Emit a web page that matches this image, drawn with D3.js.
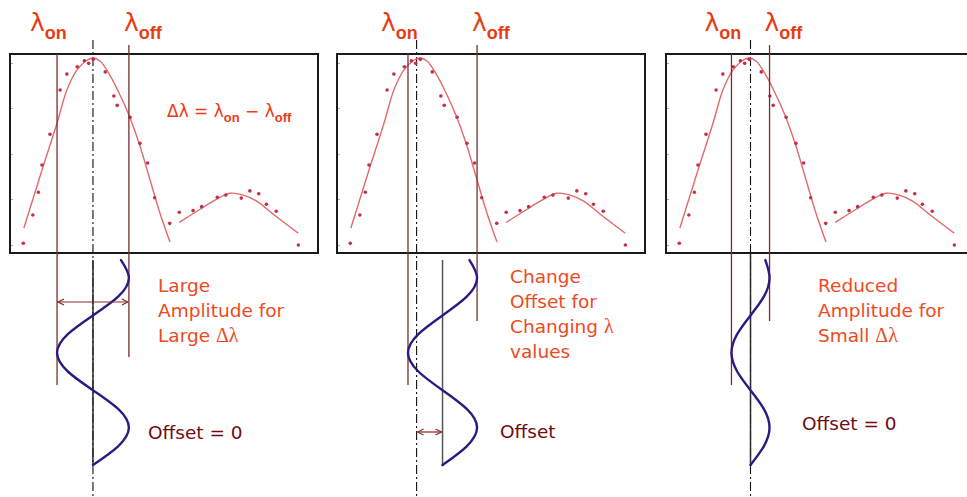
<!DOCTYPE html>
<html>
<head>
<meta charset="utf-8">
<script src="https://cdn.jsdelivr.net/npm/d3@7"></script>
<style>
  body { margin: 0; background: #fff; }
  text { font-family: "DejaVu Sans", Verdana, sans-serif; }
</style>
</head>
<body>
<script>
// measured spectrum, identical in all three panels (x: wavelength 0-100, y: signal 0-100)
const specX = [4.0, 7.1, 8.9, 10.1, 12.7, 16.0, 18.2, 21.6, 23.9, 25.3, 26.8, 30.7, 33.5, 34.6, 38.8,
               42.0, 44.5, 46.8, 51.7, 54.8, 59.3, 62.1, 67.2, 70.0, 75.0, 77.8, 80.7, 83.2, 86.4, 93.6];
const specY = [4.9, 19.1, 30.5, 44.2, 59.7, 81.9, 89.9, 93.6, 96.6, 95.3, 97.3, 91.0, 78.9, 74.2, 68.2,
               55.1, 45.2, 27.8, 14.9, 20.5, 21.3, 23.3, 28.0, 29.1, 27.6, 31.2, 29.8, 24.5, 21.0, 4.0];

// fitted curves
const fitPeakX = [4.2, 10.1, 15.0, 18.2, 21.5, 24.4, 26.7, 29.0, 32.2, 35.5, 38.4, 42.0, 45.3, 48.5, 51.8];
const fitPeakY = [12.6, 41.7, 65.3, 81.9, 92.0, 96.5, 98.0, 96.5, 89.4, 79.4, 69.3, 53.8, 36.7, 20.1, 5.5];
const fitSideX = [54.8, 61.6, 67.0, 71.3, 75.6, 80.0, 86.5, 93.6];
const fitSideY = [15.4, 22.0, 27.1, 30.0, 29.1, 26.1, 18.2, 9.9];

const yTicks = [4.0, 27.1, 49.7, 72.9, 95.5];

// laser wavelengths per panel
const lambdaOn = [15.0, 22.8, 21.0];
const lambdaOff = [38.4, 45.3, 33.4];
const lineCentre = [26.7, 25.6, 27.2];

// modulation waveform: phase (periods) and normalised value (-1 = lambda on, 1 = lambda off)
const wavePhase = [-0.12, 0, 0.125, 0.25, 0.375, 0.5, 0.625, 0.75, 0.875, 1, 1.125, 1.25];
const waveValue = [0.78, 1, 0.7, 0, -0.7, -1, -0.7, 0, 0.7, 1, 0.7, 0];

const captions = [
  ["Large", "Amplitude for", "Large Δλ"],
  ["Change", "Offset for", "Changing λ", "values"],
  ["Reduced", "Amplitude for", "Small Δλ"]
];
const offsetLabels = ["Offset = 0", "Offset", "Offset = 0"];

// layout
const W = 967, H = 497;
const boxTop = 54, boxBottom = 253, boxW = 307;
const layout = [
  { left: 11, offBottom: 357, capX: 158, capY: 292, offX: 148, offY: 439, arrow: "amp", solidTop: 260 },
  { left: 338, offBottom: 321, capX: 510, capY: 283, offX: 500, offY: 438, arrow: "offset", solidTop: 260 },
  { left: 667, offBottom: 321, capX: 818, capY: 292, offX: 802, offY: 430, arrow: null, solidTop: 254 }
];

const red = "#ee4a1e", maroon = "#6e0c14", lineCol = "#7a2e2e";

const svg = d3.select("body").append("svg").attr("width", W).attr("height", H);

const defs = svg.append("defs");
defs.append("marker")
    .attr("id", "arr")
    .attr("viewBox", "0 0 8 8")
    .attr("refX", 7).attr("refY", 4)
    .attr("markerWidth", 8).attr("markerHeight", 8)
    .attr("markerUnits", "userSpaceOnUse")
    .attr("orient", "auto-start-reverse")
  .append("path")
    .attr("d", "M1,1 L7,4 L1,7")
    .attr("fill", "none")
    .attr("stroke", "#8b2a2a")
    .attr("stroke-width", 1.2);

const y = d3.scaleLinear().domain([0, 100]).range([boxBottom, boxTop]);
const yWave = d3.scaleLinear().domain([0, 1.25]).range([278, 465]);

const spec = specX.map((d, i) => ({ x: d, y: specY[i] }));
const fitPeak = fitPeakX.map((d, i) => ({ x: d, y: fitPeakY[i] }));
const fitSide = fitSideX.map((d, i) => ({ x: d, y: fitSideY[i] }));
const wave = wavePhase.map((d, i) => ({ t: d, v: waveValue[i] }));

function greekText(sel, str) {
  // split so greek letters use a thinner serif face
  str.split(/([Δλ]+)/).filter(s => s.length).forEach(s => {
    const t = sel.append("tspan").text(s);
    if (/[Δλ]/.test(s)) t.attr("font-family", "Liberation Serif, serif").attr("font-size", 20);
  });
}

layout.forEach((p, i) => {
  const x = d3.scaleLinear().domain([0, 100]).range([p.left, p.left + boxW]);
  const g = svg.append("g");

  const xOn = x(lambdaOn[i]), xOff = x(lambdaOff[i]);
  const xMid = x((lambdaOn[i] + lambdaOff[i]) / 2);
  const xRef = x(lineCentre[i]);

  // dash-dot reference line through the peak
  g.append("line")
      .attr("x1", xRef).attr("x2", xRef).attr("y1", 40).attr("y2", H)
      .attr("stroke", "#111").attr("stroke-width", 1.1)
      .attr("stroke-dasharray", "9,3,2,3");

  // box
  g.append("rect")
      .attr("x", p.left - 1).attr("y", boxTop)
      .attr("width", boxW + 1).attr("height", boxBottom - boxTop)
      .attr("fill", "none").attr("stroke", "#1a1a1a").attr("stroke-width", 2);

  g.append("g")
      .attr("transform", "translate(" + p.left + ",0)")
      .call(d3.axisLeft(y).tickValues(yTicks).tickSize(-2).tickFormat(""))
      .call(a => a.select(".domain").remove())
      .call(a => a.selectAll("line").attr("stroke", "#aaa"));

  // fitted curves
  const line = d3.line().x(d => x(d.x)).y(d => y(d.y)).curve(d3.curveCatmullRom.alpha(0.5));
  [fitPeak, fitSide].forEach(c => {
    g.append("path").attr("d", line(c))
        .attr("fill", "none").attr("stroke", "#e26a6a").attr("stroke-width", 1.4);
  });

  g.selectAll(".pt").data(spec).enter().append("circle")
      .attr("class", "pt")
      .attr("cx", d => x(d.x)).attr("cy", d => y(d.y))
      .attr("r", 1.8).attr("fill", "#c2304a");

  // lambda lines
  g.append("line").attr("x1", xOn).attr("x2", xOn).attr("y1", boxTop).attr("y2", 385)
      .attr("stroke", lineCol).attr("stroke-width", 1.3);
  g.append("line").attr("x1", xOff).attr("x2", xOff).attr("y1", 45).attr("y2", p.offBottom)
      .attr("stroke", lineCol).attr("stroke-width", 1.3);

  // lambda labels
  [[xOn - 27, "on"], [xOff - 5, "off"]].forEach(([lx, sub]) => {
    const t = g.append("text").attr("x", lx).attr("y", 31).attr("fill", "#e63e14");
    t.append("tspan").attr("font-size", 25).text("λ");
    t.append("tspan").attr("font-family", "Liberation Sans, Arial, sans-serif")
        .attr("font-weight", "bold").attr("font-size", 18).attr("dy", 8).text(sub);
  });

  // solid axis of the modulation
  g.append("line").attr("x1", xMid).attr("x2", xMid).attr("y1", p.solidTop).attr("y2", 466)
      .attr("stroke", i === 1 ? "#555" : "#2a2a2a").attr("stroke-width", 1.5);

  // modulation waveform
  const xWave = d3.scaleLinear().domain([-1, 1]).range([xOn, xOff]);
  g.append("path")
      .attr("d", d3.line().x(d => xWave(d.v)).y(d => yWave(d.t)).curve(d3.curveNatural)(wave))
      .attr("fill", "none").attr("stroke", "#2d1a80").attr("stroke-width", 2.4)
      .attr("stroke-linecap", "round");

  if (p.arrow === "amp") {
    g.append("line").attr("x1", xOn + 1).attr("x2", xOff - 1).attr("y1", 302).attr("y2", 302)
        .attr("stroke", "#8b2a2a").attr("stroke-width", 1.2)
        .attr("marker-start", "url(#arr)").attr("marker-end", "url(#arr)");
  } else if (p.arrow === "offset") {
    g.append("line").attr("x1", xRef + 1).attr("x2", xMid - 1).attr("y1", 432).attr("y2", 432)
        .attr("stroke", "#8b2a2a").attr("stroke-width", 1.2)
        .attr("marker-start", "url(#arr)").attr("marker-end", "url(#arr)");
  }

  // captions
  captions[i].forEach((c, k) => {
    const t = g.append("text").attr("x", p.capX).attr("y", p.capY + k * 25)
        .attr("font-size", 18.5).attr("fill", red);
    greekText(t, c);
  });
  g.append("text").attr("x", p.offX).attr("y", p.offY)
      .attr("font-size", 18.5).attr("fill", maroon).text(offsetLabels[i]);
});

// formula in first panel
const f = svg.append("text").attr("x", 167).attr("y", 117).attr("fill", "#ee3a16")
    .attr("font-family", "Liberation Serif, serif").attr("font-size", 17);
f.append("tspan").text("Δλ = λ");
f.append("tspan").attr("font-family", "Liberation Sans, Arial, sans-serif").attr("font-weight", "bold")
    .attr("font-size", 13).attr("dy", 5).text("on");
f.append("tspan").attr("dy", -5).text(" − λ");
f.append("tspan").attr("font-family", "Liberation Sans, Arial, sans-serif").attr("font-weight", "bold")
    .attr("font-size", 13).attr("dy", 5).text("off");
</script>
</body>
</html>
